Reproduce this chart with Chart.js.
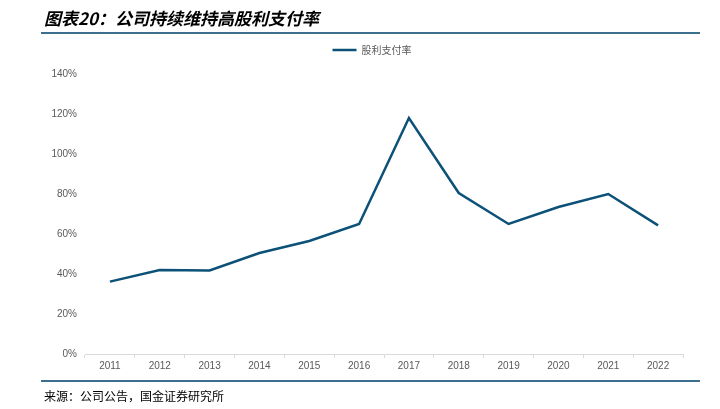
<!DOCTYPE html>
<html>
<head>
<meta charset="utf-8">
<script src="https://cdn.jsdelivr.net/npm/chart.js@4"></script>
<style>
  body { margin: 0; width: 720px; height: 409px; background: #fff; position: relative; overflow: hidden; }
  #title { position: absolute; left: 44px; top: 5px; font: italic bold 17px "Noto Sans CJK SC", sans-serif; color: #000; }
  .rule { position: absolute; left: 41px; width: 659px; height: 2px; background: #3b6e8f; }
  #footer { position: absolute; left: 44px; top: 387px; font: 12px "Noto Sans CJK SC", sans-serif; color: #000; }
  #wrap { position: absolute; left: 0; top: 0; width: 720px; height: 409px; }
</style>
</head>
<body>
<div id="wrap"><canvas id="myChart"></canvas></div>
<div id="title">图表20：公司持续维持高股利支付率</div>
<div class="rule" style="top:32px"></div>
<div class="rule" style="top:380px"></div>
<div id="footer">来源：公司公告，国金证券研究所</div>
<script>
// 年份（X轴）
const years = ["2011", "2012", "2013", "2014", "2015", "2016", "2017", "2018", "2019", "2020", "2021", "2022"];
// 股利支付率（%）
const payoutRatio = [36.2, 42, 41.8, 50.5, 56.5, 65, 118, 80.5, 65, 73.5, 80, 64.3];
const seriesName = "股利支付率";

// 图例：下方留白，并向右挪一点
const legendTweak = {
    id: 'legendTweak',
    beforeInit(chart) {
        const origFit = chart.legend.fit;
        chart.legend.fit = function () {
            origFit.call(this);
            this.height += 9;
        };
    },
    afterLayout(chart) {
        chart.legend.left = 61;
    }
};

const ctx = document.getElementById('myChart').getContext('2d');
const chart = new Chart(ctx, {
    type: 'line',
    data: {
        labels: years,
        datasets: [{
            label: seriesName,
            data: payoutRatio,
            borderColor: '#0c5177',
            backgroundColor: '#0c5177',
            borderWidth: 2.5,
            pointRadius: 0,
            tension: 0,
            fill: false
        }]
    },
    options: {
        responsive: true,
        maintainAspectRatio: false,
        animation: false,
        layout: { padding: { left: 0, right: 37, top: 35, bottom: 35 } },
        plugins: {
            legend: {
                position: 'top',
                labels: {
                    usePointStyle: true,
                    pointStyle: 'line',
                    pointStyleWidth: 24,
                    padding: 10,
                    color: '#595959',
                    font: { size: 10, family: '"Noto Sans CJK SC", sans-serif' }
                }
            },
            tooltip: { enabled: false }
        },
        scales: {
            x: {
                offset: true,
                grid: { display: true, drawOnChartArea: false, drawTicks: true, tickLength: 4, color: '#d9d9d9', offset: true },
                border: { display: true, color: '#d9d9d9' },
                ticks: { color: '#595959', padding: 2, font: { size: 10, family: 'Liberation Sans, sans-serif' } }
            },
            y: {
                min: 0,
                max: 140,
                afterFit: s => { s.width = 85; },
                grid: { display: false, drawTicks: false },
                border: { display: false },
                ticks: {
                    stepSize: 20,
                    padding: 8,
                    color: '#595959',
                    font: { size: 10, family: 'Liberation Sans, sans-serif' },
                    callback: v => v + '%'
                }
            }
        }
    },
    plugins: [legendTweak]
});
</script>
</body>
</html>
